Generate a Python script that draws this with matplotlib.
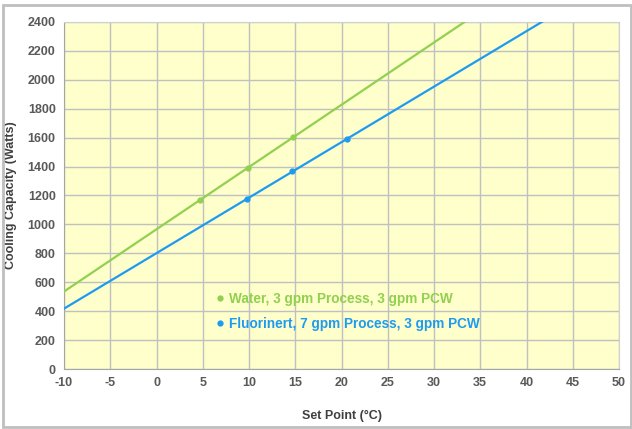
import numpy as np
import matplotlib.pyplot as plt
from matplotlib.patches import Rectangle

# measured points
water_x = [4.7, 9.9, 14.8]
water_y = [1170, 1390, 1605]
fluor_x = [9.8, 14.7, 20.6]
fluor_y = [1175, 1370, 1590]

labels = ["Water, 3 gpm Process, 3 gpm PCW", "Fluorinert, 7 gpm Process, 3 gpm PCW"]
colors = ["#92d050", "#1e9bf0"]

x_ticks = np.arange(-10, 51, 5)
y_ticks = np.arange(0, 2401, 200)

plt.rcParams['font.family'] = ['Liberation Sans', 'DejaVu Sans']
plt.rcParams['axes.unicode_minus'] = False

fig = plt.figure(figsize=(6.32, 4.29), dpi=100)
ax = fig.add_axes([64 / 632, 1 - 369 / 429, 555 / 632, 347 / 429])
ax.set_facecolor("#ffffcc")

xs = np.array([-10, 50])
for (px, py), lab, col in zip([(water_x, water_y), (fluor_x, fluor_y)], labels, colors):
    k, b = np.polyfit(px, py, 1)
    ax.plot(xs, k * xs + b, color=col, lw=1.6, zorder=3)
    ax.plot(px, py, 'o', color=col, ms=3.5, label=lab, zorder=4)

ax.set_xlim(-10, 50)
ax.set_ylim(0, 2400)
ax.set_xticks(x_ticks)
ax.set_yticks(y_ticks)
ax.grid(True, color="#c0c0c0", lw=1)
ax.set_axisbelow(True)
for s in ["top", "right"]:
    ax.spines[s].set_color("#d0d0d0")
for s in ["left", "bottom"]:
    ax.spines[s].set_color("#a6a6a6")
ax.tick_params(length=0, pad=6, labelsize=9, labelcolor="#595959")
for t in ax.get_xticklabels() + ax.get_yticklabels():
    t.set_fontweight("bold")

ax.set_xlabel("Set Point (°C)", fontsize=9, fontweight="bold", color="#404040")
ax.set_ylabel("Cooling Capacity (Watts)", fontsize=9, fontweight="bold", color="#404040")
ax.yaxis.set_label_coords(-0.085, 0.5)
ax.xaxis.set_label_coords(0.5, -0.118)

leg = ax.legend(loc="lower left", bbox_to_anchor=(0.255, 0.075), frameon=False,
                handlelength=0.4, handletextpad=0.4, labelspacing=0.8,
                prop={"size": 9.8, "weight": "bold"})
for t, col in zip(leg.get_texts(), colors):
    t.set_color(col)

fig.patches.append(Rectangle((0.004, 0.004), 0.995, 0.984, transform=fig.transFigure,
                             fill=False, edgecolor="#bfbfbf", lw=2))

fig.savefig("out.png", dpi=100)
